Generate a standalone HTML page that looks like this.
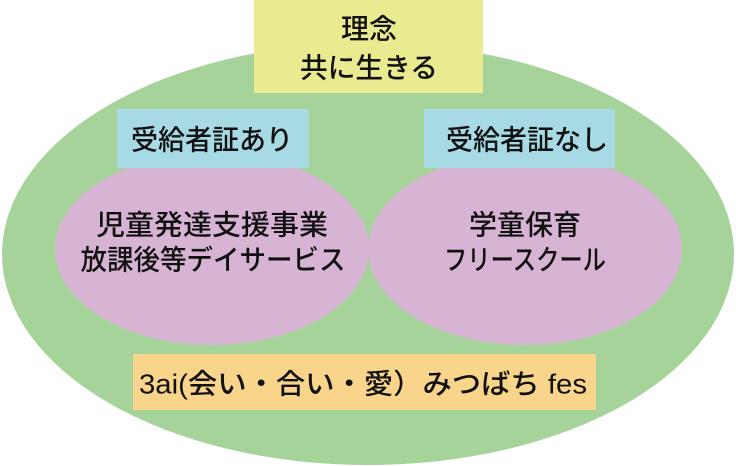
<!DOCTYPE html>
<html><head><meta charset="utf-8"><style>
html,body{margin:0;padding:0;background:#fff;}
svg{display:block}
text{font-family:"Liberation Sans","Noto Sans CJK JP",sans-serif;font-size:28px;font-weight:500;fill:#111;text-anchor:middle;dominant-baseline:central;}
</style></head><body>
<svg width="736" height="466" viewBox="0 0 736 466">
<ellipse cx="368" cy="254" rx="366" ry="211" fill="#a6d39a"/>
<rect x="254" y="0" width="229" height="93" fill="#eaeb91"/>
<text x="369" y="29" textLength="56" lengthAdjust="spacingAndGlyphs">理念</text>
<text x="369" y="68" textLength="138" lengthAdjust="spacingAndGlyphs">共に生きる</text>
<ellipse cx="212" cy="249" rx="157" ry="96" fill="#d8b4d4"/>
<ellipse cx="525" cy="249" rx="157" ry="96" fill="#d8b4d4"/>
<rect x="117" y="109" width="192" height="59" fill="#a7dae4"/>
<rect x="424" y="109" width="191" height="59" fill="#a7dae4"/>
<text x="212" y="140" textLength="162" lengthAdjust="spacingAndGlyphs">受給者証あり</text>
<text x="527" y="140" textLength="162" lengthAdjust="spacingAndGlyphs">受給者証なし</text>
<text x="212" y="225" textLength="232" lengthAdjust="spacingAndGlyphs">児童発達支援事業</text>
<text x="213" y="260" textLength="265" lengthAdjust="spacingAndGlyphs">放課後等デイサービス</text>
<text x="525" y="225" textLength="112" lengthAdjust="spacingAndGlyphs">学童保育</text>
<text x="525" y="260" textLength="162" lengthAdjust="spacingAndGlyphs">フリースクール</text>
<rect x="133" y="354" width="463" height="56" fill="#f8d58a"/>
<text x="363" y="384" textLength="448" lengthAdjust="spacingAndGlyphs">3ai(会い・合い・愛）みつばち fes</text>
</svg>
</body></html>
